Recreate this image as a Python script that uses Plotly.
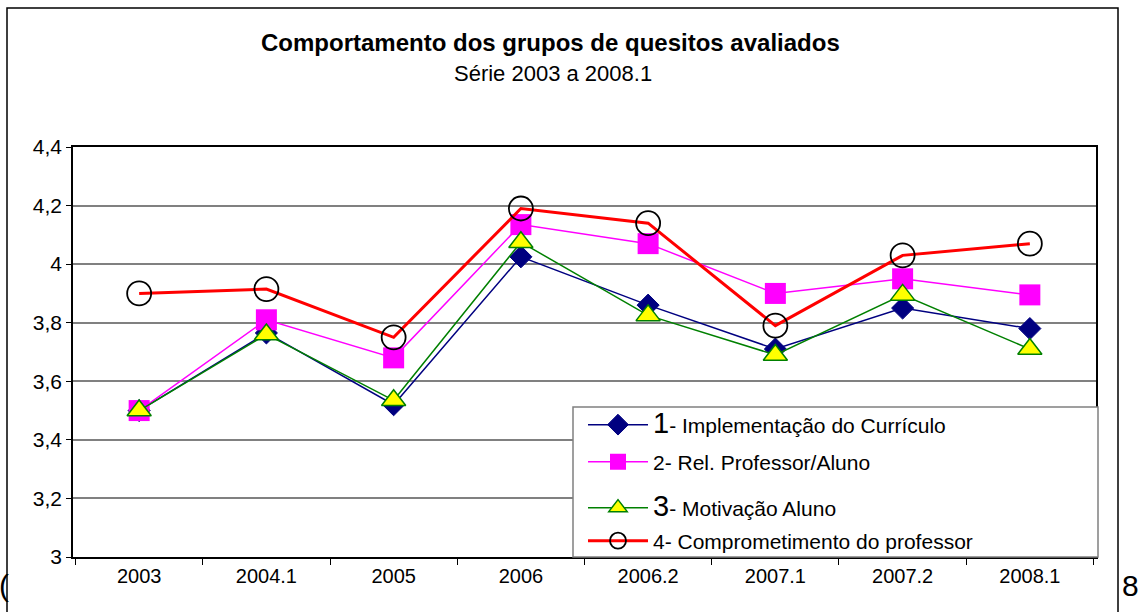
import plotly.graph_objects as go

categories = ["2003", "2004.1", "2005", "2006", "2006.2", "2007.1", "2007.2", "2008.1"]
s1_curriculo = [3.50, 3.765, 3.52, 4.025, 3.86, 3.71, 3.85, 3.78]
s2_rel_prof_aluno = [3.50, 3.81, 3.68, 4.135, 4.07, 3.90, 3.95, 3.895]
s3_motivacao = [3.50, 3.76, 3.535, 4.075, 3.825, 3.69, 3.895, 3.71]
s4_comprometimento = [3.90, 3.915, 3.75, 4.19, 4.14, 3.79, 4.03, 4.07]

names = [
    "<span style='font-size:29px'>1</span>- Implementação do Currículo",
    "2- Rel. Professor/Aluno",
    "<span style='font-size:29px'>3</span>- Motivação Aluno",
    "4- Comprometimento do professor",
]
y_tickvals = [3, 3.2, 3.4, 3.6, 3.8, 4, 4.2, 4.4]
y_ticktext = ["3", "3,2", "3,4", "3,6", "3,8", "4", "4,2", "4,4"]

FONT = "Liberation Sans, Arial, sans-serif"

# pixel geometry of plot area
L, R, T, B = 73, 1096, 147, 557
W, H = 1140, 612
def px(x):
    return (x - L) / (R - L)
def py(y):
    return (B - y) / (B - T)

fig = go.Figure()
fig.add_trace(go.Scatter(
    x=categories, y=s1_curriculo, mode="lines+markers", name=names[0],
    line=dict(color="#000080", width=1.5),
    marker=dict(symbol="diamond", size=17, color="#000080", line=dict(color="#000080", width=1)),
    legend="legend", showlegend=True))
fig.add_trace(go.Scatter(
    x=categories, y=s2_rel_prof_aluno, mode="lines+markers", name=names[1],
    line=dict(color="#FF00FF", width=1.5),
    marker=dict(symbol="square", size=21, color="#FF00FF", line=dict(color="#FF00FF", width=0)),
    legend="legend2", showlegend=True))
fig.add_trace(go.Scatter(
    x=categories, y=s3_motivacao, mode="lines+markers", name=names[2],
    line=dict(color="#008000", width=1.5),
    marker=dict(symbol="triangle-up", size=21, color="#FFFF00", line=dict(color="#008000", width=1.5)),
    legend="legend3", showlegend=True))
fig.add_trace(go.Scatter(
    x=categories, y=s4_comprometimento, mode="lines+markers", name=names[3],
    line=dict(color="#FF0000", width=3),
    marker=dict(symbol="circle-open", size=24, color="#000000", line=dict(color="#000000", width=1.8)),
    legend="legend4", showlegend=True))

legend_common = dict(bgcolor="rgba(0,0,0,0)", borderwidth=0, xanchor="left", yanchor="middle",
                     font=dict(family=FONT, size=21, color="black"), itemwidth=60)
lx = px(583)

fig.update_layout(
    width=W, height=H,
    showlegend=True,
    margin=dict(l=L, r=W - R, t=T, b=H - B),
    paper_bgcolor="white", plot_bgcolor="white",
    font=dict(family=FONT, color="black"),
    xaxis=dict(type="category", tickson="boundaries", ticks="outside", ticklen=6,
               tickcolor="black", tickwidth=1, showline=True, linecolor="black", linewidth=1.5,
               mirror=True, showgrid=False, tickfont=dict(family=FONT, size=20, color="black")),
    yaxis=dict(range=[3, 4.4], tickvals=y_tickvals, ticktext=y_ticktext, ticks="outside",
               ticklen=5, tickcolor="black", showline=True, linecolor="black", linewidth=1.5,
               mirror=True, showgrid=True, gridcolor="#808080", gridwidth=1.5, zeroline=False,
               tickfont=dict(family=FONT, size=21, color="black")),
    legend=dict(x=lx, y=py(425), **legend_common),
    legend2=dict(x=lx, y=py(462), **legend_common),
    legend3=dict(x=lx, y=py(508), **legend_common),
    legend4=dict(x=lx, y=py(541), **legend_common),
    shapes=[
        dict(type="rect", xref="paper", yref="paper", x0=px(7), x1=px(1118), y0=py(650), y1=py(8),
             line=dict(color="black", width=1.5), fillcolor="rgba(0,0,0,0)", layer="below"),
        dict(type="rect", xref="paper", yref="paper", x0=px(573), x1=px(1098), y0=py(557), y1=py(407),
             line=dict(color="#808080", width=1.5), fillcolor="white", layer="above"),
    ],
    annotations=[
        dict(text="<b>Comportamento dos grupos de quesitos avaliados</b>", xref="paper", yref="paper",
             x=px(550), y=py(42), xanchor="center", yanchor="middle", showarrow=False,
             font=dict(family=FONT, size=24, color="black")),
        dict(text="Série 2003 a 2008.1", xref="paper", yref="paper",
             x=px(553), y=py(73), xanchor="center", yanchor="middle", showarrow=False,
             font=dict(family=FONT, size=22, color="black")),
        dict(text="8", xref="paper", yref="paper", x=px(1120), y=py(585), xanchor="left",
             yanchor="middle", showarrow=False, font=dict(family=FONT, size=30, color="black")),
        dict(text="(", xref="paper", yref="paper", x=px(-3), y=py(585), xanchor="left",
             yanchor="middle", showarrow=False, font=dict(family=FONT, size=30, color="black")),
    ],
)

fig.write_html("out.html", config={"displayModeBar": False},
               post_script="document.body.style.margin='0';")
